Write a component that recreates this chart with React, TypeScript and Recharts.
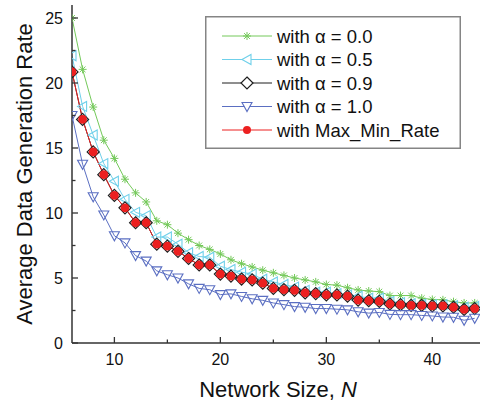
import React from 'react';
import { LineChart, Line, XAxis, YAxis, Legend, Label } from 'recharts';

// ---- data ----
const networkSize = [6, 7, 8, 9, 10, 11, 12, 13, 14, 15, 16, 17, 18, 19, 20, 21, 22, 23, 24, 25, 26, 27, 28, 29, 30, 31, 32, 33, 34, 35, 36, 37, 38, 39, 40, 41, 42, 43, 44];
const alpha00 = [25.0, 21.05, 18.15, 15.6, 14.2, 12.6, 11.55, 10.85, 9.4, 9.1, 8.45, 7.95, 7.5, 7.2, 6.85, 6.4, 6.1, 5.85, 5.6, 5.4, 5.2, 5.0, 4.85, 4.7, 4.5, 4.45, 4.25, 4.08, 4.0, 3.95, 3.65, 3.65, 3.65, 3.45, 3.35, 3.32, 3.18, 3.08, 3.08];
const alpha05 = [22.1, 18.2, 16.0, 13.8, 12.45, 11.05, 10.05, 9.8, 8.15, 8.15, 7.6, 6.95, 6.65, 6.6, 5.9, 5.65, 5.45, 5.3, 4.9, 4.7, 4.5, 4.3, 4.05, 3.9, 3.9, 3.8, 3.7, 3.6, 3.45, 3.45, 3.2, 3.1, 3.02, 2.98, 2.95, 2.95, 2.88, 2.75, 2.82];
const alpha09 = [20.85, 17.2, 14.7, 12.95, 11.35, 10.4, 9.25, 9.25, 7.6, 7.45, 7.05, 6.5, 6.0, 6.0, 5.3, 5.15, 4.92, 4.85, 4.6, 4.2, 4.1, 4.05, 3.85, 3.8, 3.7, 3.7, 3.6, 3.3, 3.25, 3.2, 3.0, 2.95, 2.9, 2.9, 2.85, 2.85, 2.75, 2.58, 2.65];
const alpha10 = [17.5, 13.75, 11.25, 9.85, 8.25, 7.7, 6.72, 6.3, 5.55, 5.25, 5.0, 4.55, 4.2, 4.1, 3.72, 3.78, 3.58, 3.4, 3.28, 3.08, 2.95, 2.8, 2.75, 2.65, 2.65, 2.6, 2.55, 2.4, 2.3, 2.35, 2.2, 2.18, 2.18, 2.12, 2.08, 2.0, 1.98, 1.75, 1.9];
const maxMinRate = [20.85, 17.2, 14.7, 12.95, 11.35, 10.4, 9.25, 9.25, 7.6, 7.45, 7.05, 6.5, 6.0, 6.0, 5.3, 5.15, 4.92, 4.85, 4.6, 4.2, 4.1, 4.05, 3.85, 3.8, 3.7, 3.7, 3.6, 3.3, 3.25, 3.2, 3.0, 2.95, 2.9, 2.9, 2.85, 2.85, 2.75, 2.58, 2.65];

const xTicks = [10, 15, 20, 25, 30, 35, 40];
const xMajor = [10, 20, 30, 40];
const yTicks = [0, 2.5, 5, 7.5, 10, 12.5, 15, 17.5, 20, 22.5, 25];
const yMajor = [0, 5, 10, 15, 20, 25];

const seriesNames = ['with \u03b1 = 0.0', 'with \u03b1 = 0.5', 'with \u03b1 = 0.9', 'with \u03b1 = 1.0', 'with Max_Min_Rate'];

const data = networkSize.map((n, i) => ({
  n,
  a00: alpha00[i],
  a05: alpha05[i],
  a09: alpha09[i],
  a10: alpha10[i],
  mmr: maxMinRate[i],
}));

type Kind = 'star' | 'triLeft' | 'diamond' | 'triDown' | 'circle';

const series: { key: string; name: string; color: string; kind: Kind }[] = [
  { key: 'a00', name: seriesNames[0], color: '#74c95a', kind: 'star' },
  { key: 'a05', name: seriesNames[1], color: '#6fd0ea', kind: 'triLeft' },
  { key: 'a09', name: seriesNames[2], color: '#1e1e1e', kind: 'diamond' },
  { key: 'a10', name: seriesNames[3], color: '#5b6fc2', kind: 'triDown' },
  { key: 'mmr', name: seriesNames[4], color: '#ec2020', kind: 'circle' },
];

const FONT = '"Liberation Sans", Arial, sans-serif';
const AXIS = '#333';

function Marker({ kind, cx, cy, color, legend }: { kind: Kind; cx: number; cy: number; color: string; legend?: boolean }) {
  if (cx == null || cy == null || isNaN(cx) || isNaN(cy)) return <g />;
  switch (kind) {
    case 'star': {
      const r = 4;
      const d = r * 0.72;
      return (
        <g stroke={color} strokeWidth={1}>
          <line x1={cx - r} y1={cy} x2={cx + r} y2={cy} />
          <line x1={cx} y1={cy - r} x2={cx} y2={cy + r} />
          <line x1={cx - d} y1={cy - d} x2={cx + d} y2={cy + d} />
          <line x1={cx - d} y1={cy + d} x2={cx + d} y2={cy - d} />
        </g>
      );
    }
    case 'triLeft':
      return <polygon points={`${cx - 5},${cy} ${cx + 4},${cy - 5} ${cx + 4},${cy + 5}`} fill={legend ? '#fff' : 'none'} stroke={color} strokeWidth={1.1} />;
    case 'triDown':
      return <polygon points={`${cx - 5},${cy - 4} ${cx + 5},${cy - 4} ${cx},${cy + 5}`} fill={legend ? '#fff' : 'none'} stroke={color} strokeWidth={1.1} />;
    case 'diamond':
      return <polygon points={`${cx},${cy - 6} ${cx + 6},${cy} ${cx},${cy + 6} ${cx - 6},${cy}`} fill={legend ? '#fff' : 'none'} stroke={color} strokeWidth={1.2} />;
    case 'circle':
      return <circle cx={cx} cy={cy} r={legend ? 4 : 4.4} fill={color} stroke="none" />;
  }
  return <g />;
}

const X_MARGIN = 8;
const Y_MARGIN = 8;

const XTick = (props: any) => {
  const { x, y, payload } = props;
  const v = payload.value;
  const major = xMajor.includes(v);
  const axisY = y - X_MARGIN;
  return (
    <g>
      <line x1={x} x2={x} y1={axisY} y2={axisY - (major ? 6 : 3.5)} stroke={AXIS} strokeWidth={1.3} />
      {major && (
        <text x={x} y={axisY + 16} textAnchor="middle" dominantBaseline="central" fontSize={16} fontFamily={FONT} fill="#111">
          {v}
        </text>
      )}
    </g>
  );
};

const YTick = (props: any) => {
  const { x, y, payload } = props;
  const v = payload.value;
  const major = yMajor.includes(v);
  const axisX = x + Y_MARGIN;
  return (
    <g>
      <line x1={axisX} x2={axisX + (major ? 6 : 3.5)} y1={y} y2={y} stroke={AXIS} strokeWidth={1.3} />
      {major && (
        <text x={axisX - 9} y={y} textAnchor="end" dominantBaseline="central" fontSize={16} fontFamily={FONT} fill="#111">
          {v}
        </text>
      )}
    </g>
  );
};

const XTitle = (props: any) => {
  const vb = props.viewBox || { x: 72, y: 343, width: 408, height: 59 };
  return (
    <text x={vb.x + vb.width / 2 + 2} y={vb.y + 54} textAnchor="middle" fontSize={22} fontFamily={FONT} fill="#111">
      Network Size, <tspan fontStyle="italic">N</tspan>
    </text>
  );
};

const YTitle = (props: any) => {
  const vb = props.viewBox || { x: 0, y: 5, width: 72, height: 338 };
  const cx = vb.x + 24;
  const cy = vb.y + vb.height / 2;
  return (
    <text x={cx} y={cy} transform={`rotate(-90 ${cx} ${cy})`} textAnchor="middle" dominantBaseline="central" fontSize={22} fontFamily={FONT} fill="#111">
      Average Data Generation Rate
    </text>
  );
};

const LegendBox = () => (
  <svg width={256} height={133} style={{ display: 'block' }}>
    <rect x={0.75} y={0.75} width={254.5} height={131.5} fill="#fff" stroke="#858585" strokeWidth={1.5} />
    {series.map((s, i) => {
      const cy = 20 + i * 23.5;
      return (
        <g key={s.key}>
          <line x1={17} x2={67} y1={cy} y2={cy} stroke={s.color} strokeWidth={1} />
          <Marker kind={s.kind} cx={42} cy={cy} color={s.color} legend />
          <text x={72} y={cy} dominantBaseline="central" fontSize={18.5} fontFamily={FONT} fill="#111">
            {s.name}
          </text>
        </g>
      );
    })}
  </svg>
);

export default function App() {
  return (
    <div style={{ position: 'absolute', left: 0, top: 0, width: 480, height: 402, background: '#fff', fontFamily: FONT }}>
      <LineChart width={480} height={402} data={data} margin={{ top: 5, right: 0, bottom: 0, left: 0 }}>
        <XAxis
          dataKey="n"
          type="number"
          domain={[6, 44.5]}
          allowDataOverflow
          ticks={xTicks}
          interval={0}
          tick={<XTick />}
          tickLine={false}
          tickSize={0}
          tickMargin={X_MARGIN}
          height={59}
          axisLine={{ stroke: AXIS, strokeWidth: 1.5 }}
        >
          <Label content={<XTitle />} />
        </XAxis>
        <XAxis
          xAxisId="top"
          orientation="top"
          dataKey="n"
          type="number"
          domain={[6, 44.5]}
          allowDataOverflow
          height={0}
          tick={false}
          tickLine={false}
          axisLine={{ stroke: AXIS, strokeWidth: 1.5 }}
        />
        <YAxis
          type="number"
          domain={[0, 26]}
          allowDataOverflow
          ticks={yTicks}
          interval={0}
          tick={<YTick />}
          tickLine={false}
          tickSize={0}
          tickMargin={Y_MARGIN}
          width={72}
          axisLine={{ stroke: AXIS, strokeWidth: 1.5 }}
        >
          <Label content={<YTitle />} />
        </YAxis>
        <Legend
          layout="vertical"
          align="center"
          verticalAlign="middle"
          width={256}
          height={133}
          wrapperStyle={{ left: 205, top: 16, width: 256, height: 133 }}
          content={<LegendBox />}
        />
        {series.map((s) => (
          <Line
            key={s.key}
            dataKey={s.key}
            name={s.name}
            stroke={s.color}
            strokeWidth={1}
            isAnimationActive={false}
            activeDot={false}
            dot={(p: any) => <Marker key={`${s.key}-${p.index}`} kind={s.kind} cx={p.cx} cy={p.cy} color={s.color} />}
          />
        ))}
      </LineChart>
    </div>
  );
}
